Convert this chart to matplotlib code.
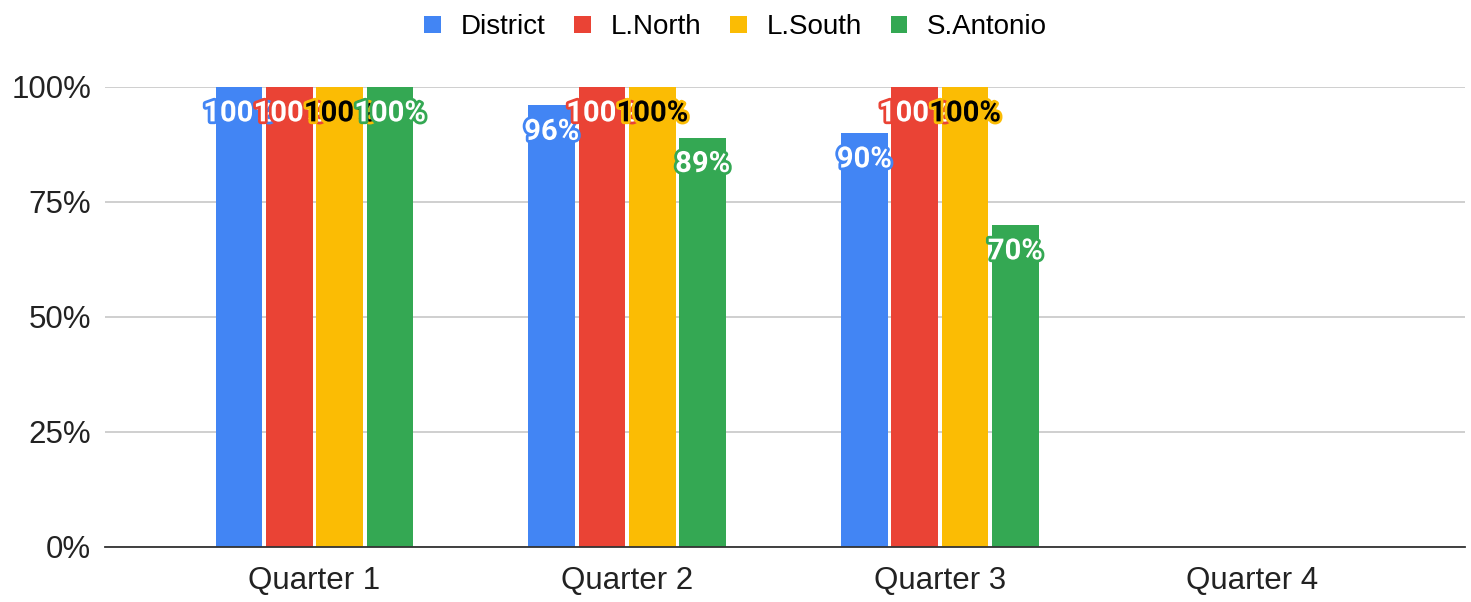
import numpy as np
import matplotlib
matplotlib.use("Agg")
import matplotlib.pyplot as plt
import matplotlib.patheffects as pe

plt.rcParams['font.family'] = ['Liberation Sans', 'DejaVu Sans']

# Data
quarters = ["Quarter 1", "Quarter 2", "Quarter 3", "Quarter 4"]
district = [100, 96, 90, np.nan]
l_north = [100, 100, 100, np.nan]
l_south = [100, 100, 100, np.nan]
s_antonio = [100, 89, 70, np.nan]

series = [
    ("District", district, "#4285F4", "white"),
    ("L.North", l_north, "#EA4335", "white"),
    ("L.South", l_south, "#FBBC04", "black"),
    ("S.Antonio", s_antonio, "#34A853", "white"),
]

fig = plt.figure(figsize=(14.71, 6.02), dpi=100)
ax = fig.add_axes([0.0714, 0.0914, 0.9246, 0.7641])

x = np.arange(len(quarters))
slot = 0.161
width = 0.150

for i, (name, vals, color, tcolor) in enumerate(series):
    pos = x + (i - 1.5) * slot
    ax.bar(pos, vals, width=width, color=color, label=name, zorder=2)

# Labels drawn after all bars so later ones overlap earlier ones
for i, (name, vals, color, tcolor) in enumerate(series):
    pos = x + (i - 1.5) * slot
    for p, v in zip(pos, vals):
        if np.isnan(v):
            continue
        ax.annotate(f"{v:.0f}%", (p, v), xytext=(0, -19), textcoords="offset points",
                    ha="center", va="center", fontsize=21, fontweight="bold",
                    family=["Roboto", "DejaVu Sans"], color=tcolor, zorder=5,
                    path_effects=[pe.withStroke(linewidth=4, foreground=color)])

ax.set_xlim(-0.67, 3.68)
ax.set_ylim(0, 100)
ax.set_yticks([0, 25, 50, 75, 100])
ax.set_yticklabels(["0%", "25%", "50%", "75%", "100%"], fontsize=22.5, color="#222222")
ax.set_xticks(x)
ax.set_xticklabels(quarters, fontsize=22.5, color="#222222")
ax.tick_params(axis="both", length=0)
ax.tick_params(axis="x", pad=14)
ax.tick_params(axis="y", pad=10)
ax.grid(axis="y", color="#cccccc", linewidth=1.3, zorder=0)
for s in ["top", "right", "left"]:
    ax.spines[s].set_visible(False)
ax.spines["bottom"].set_color("#333333")
ax.spines["bottom"].set_linewidth(1.3)
ax.spines["bottom"].set_zorder(3)

fig.legend(loc="upper center", bbox_to_anchor=(0.5, 1.018), ncol=4, frameon=False,
           fontsize=20, handlelength=0.6, handleheight=0.6, handletextpad=0.7,
           columnspacing=1.05)

fig.savefig("out.png", dpi=100)
